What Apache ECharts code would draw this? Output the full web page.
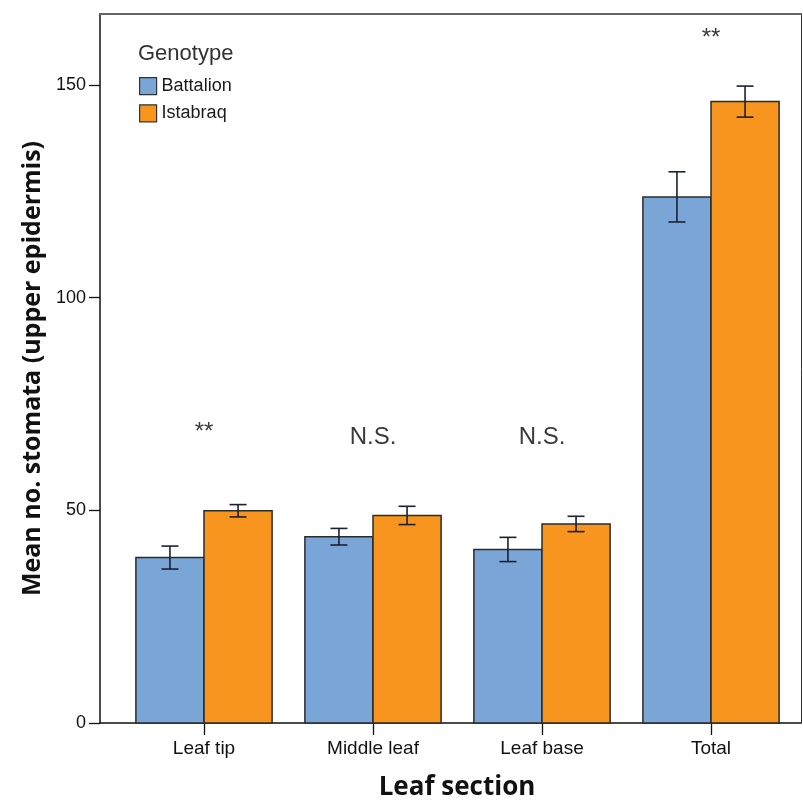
<!DOCTYPE html>
<html>
<head>
<meta charset="utf-8">
<script src="https://cdn.jsdelivr.net/npm/echarts@6/dist/echarts.min.js"></script>
<style>
  html, body { margin: 0; padding: 0; background: #ffffff; }
  #chart { width: 803px; height: 803px; }
</style>
</head>
<body>
<div id="chart"></div>
<script>
// Mean number of stomata on the upper epidermis, by leaf section and genotype
const sections = ['Leaf tip', 'Middle leaf', 'Leaf base', 'Total'];
const genotypes = ['Battalion', 'Istabraq'];
const battalionMean = [38.9, 43.8, 40.8, 123.7];
const battalionErr = [2.7, 1.95, 2.85, 5.9];
const istabraqMean = [49.9, 48.8, 46.8, 146.1];
const istabraqErr = [1.45, 2.15, 1.8, 3.65];
// significance markers above each section
const sigLabels = ['**', 'N.S.', 'N.S.', '**'];
const sigHeights = [68.4, 67.2, 67.2, 161.0];
const yTicks = [0, 50, 100, 150];
const xTicks = [0, 1, 2, 3];

const colors = ['#79a6d6', '#f7951e'];
const FONT = 'Liberation Sans, Arial, sans-serif';
const TITLE_FONT = 'Open Sans, DejaVu Sans, sans-serif';
const BAR_FRACTION = 0.403;   // width of one bar, as a fraction of a section step

function barRenderer(seriesIdx) {
  return function (params, api) {
    const x = api.value(0), y = api.value(1), e = api.value(2);
    const base = api.coord([x, 0]);
    const top = api.coord([x, y]);
    const unit = api.size([1, 0])[0];
    const bw = unit * BAR_FRACTION;
    const left = seriesIdx === 0 ? base[0] - bw : base[0];
    const cx = left + bw / 2;
    const hi = api.coord([x, y + e]);
    const lo = api.coord([x, y - e]);
    const cap = 8.5;
    const errStyle = { stroke: '#1b2130', lineWidth: 1.6 };
    return {
      type: 'group',
      children: [
        { type: 'rect', shape: { x: left, y: top[1], width: bw, height: base[1] - top[1] },
          style: { fill: colors[seriesIdx], stroke: '#2b2b2b', lineWidth: 1.5 } },
        { type: 'line', shape: { x1: cx, y1: hi[1], x2: cx, y2: lo[1] }, style: errStyle },
        { type: 'line', shape: { x1: cx - cap, y1: hi[1], x2: cx + cap, y2: hi[1] }, style: errStyle },
        { type: 'line', shape: { x1: cx - cap, y1: lo[1], x2: cx + cap, y2: lo[1] }, style: errStyle }
      ]
    };
  };
}

const xMin = -0.6154, xMax = 3.5325;

const option = {
  animation: false,
  backgroundColor: '#ffffff',
  title: {
    text: 'Genotype',
    left: 133, top: 38,
    textStyle: { fontFamily: FONT, fontSize: 22, fontWeight: 'normal', color: '#333333' }
  },
  legend: {
    data: genotypes,
    orient: 'vertical',
    left: 134, top: 72,
    itemWidth: 17, itemHeight: 17, itemGap: 9,
    icon: 'rect',
    selectedMode: false,
    itemStyle: { borderColor: '#333333', borderWidth: 1.2 },
    textStyle: { fontFamily: FONT, fontSize: 18, color: '#1a1a1a' }
  },
  grid: { left: 100, right: 2, top: 14, height: 709, containLabel: false, outerBoundsMode: 'none' },
  xAxis: [
    {
      type: 'value', min: xMin, max: xMax,
      splitLine: { show: false },
      axisLine: { show: true, onZero: false, lineStyle: { color: '#111111', width: 1.5 } },
      axisTick: { show: true, customValues: xTicks, length: 12, lineStyle: { color: '#111111', width: 1.3 } },
      axisLabel: {
        customValues: xTicks, margin: 16,
        formatter: v => sections[Math.round(v)],
        fontFamily: FONT, fontSize: 19, color: '#111111'
      },
      name: 'Leaf section', nameLocation: 'middle', nameGap: 52,
      nameTextStyle: { fontFamily: TITLE_FONT, fontSize: 26, fontWeight: 'bold', color: '#111111', padding: [0, 0, 0, 13] }
    },
    {
      type: 'value', position: 'top', min: xMin, max: xMax,
      splitLine: { show: false },
      axisLine: { show: true, onZero: false, lineStyle: { color: '#666666', width: 2 } },
      axisTick: { show: false }, axisLabel: { show: false }
    }
  ],
  yAxis: [
    {
      type: 'value', min: 0, max: 166.7, interval: 50,
      splitLine: { show: false },
      axisLine: { show: true, onZero: false, lineStyle: { color: '#111111', width: 1.5 } },
      axisTick: { show: true, customValues: yTicks, length: 11, lineStyle: { color: '#111111', width: 1.3 } },
      axisLabel: { customValues: yTicks, margin: 14, fontFamily: FONT, fontSize: 18, color: '#111111' },
      name: 'Mean no. stomata (upper epidermis)', nameLocation: 'middle', nameGap: 49,
      nameTextStyle: { fontFamily: TITLE_FONT, fontSize: 25, fontWeight: 'bold', color: '#111111' }
    },
    {
      type: 'value', position: 'right', min: 0, max: 166.7,
      splitLine: { show: false },
      axisLine: { show: true, onZero: false, lineStyle: { color: '#333333', width: 1 } },
      axisTick: { show: false }, axisLabel: { show: false }
    }
  ],
  series: [
    {
      name: genotypes[0], type: 'custom',
      itemStyle: { color: colors[0] },
      renderItem: barRenderer(0),
      encode: { x: 0, y: [1, 3, 4] },
      data: battalionMean.map((m, i) => [i, m, battalionErr[i], m + battalionErr[i], m - battalionErr[i]])
    },
    {
      name: genotypes[1], type: 'custom',
      itemStyle: { color: colors[1] },
      renderItem: barRenderer(1),
      encode: { x: 0, y: [1, 3, 4] },
      data: istabraqMean.map((m, i) => [i, m, istabraqErr[i], m + istabraqErr[i], m - istabraqErr[i]])
    },
    {
      name: 'significance', type: 'custom', silent: true,
      renderItem: function (params, api) {
        const p = api.coord([api.value(0), api.value(1)]);
        return {
          type: 'text', x: p[0], y: p[1],
          style: {
            text: sigLabels[params.dataIndex],
            fontFamily: FONT, fontSize: 24, fill: '#3a3a3a',
            align: 'center', verticalAlign: 'middle'
          }
        };
      },
      data: sigHeights.map((h, i) => [i, h])
    }
  ]
};

const chart = echarts.init(document.getElementById('chart'), null, { renderer: 'canvas' });
chart.setOption(option);
</script>
</body>
</html>
